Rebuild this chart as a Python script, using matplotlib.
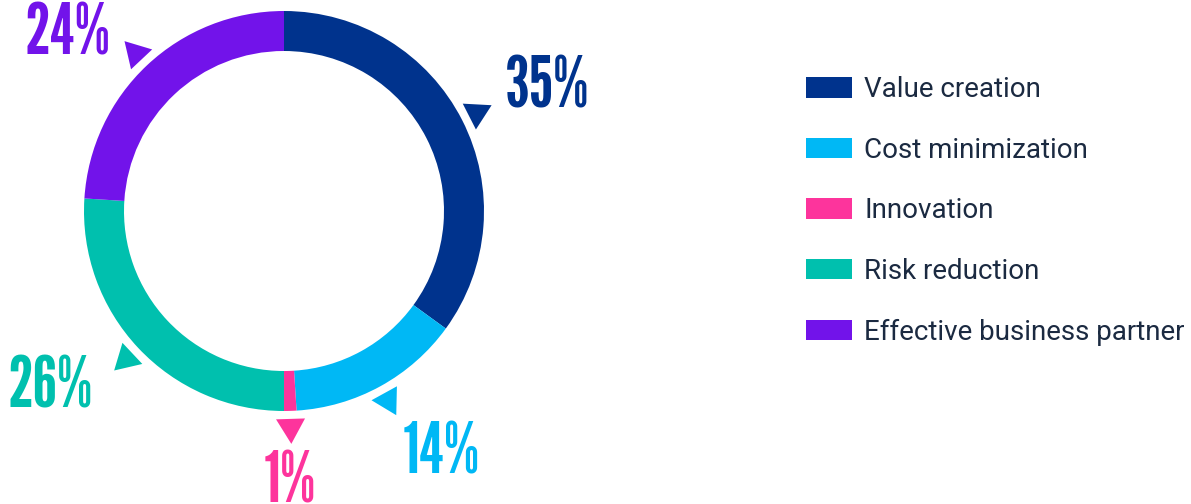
import numpy as np
import matplotlib
matplotlib.use('Agg')
import matplotlib.pyplot as plt
from matplotlib.patches import Patch, Polygon

# data
categories = ['Value creation', 'Cost minimization', 'Innovation', 'Risk reduction', 'Effective business partner']
shares = [35, 14, 1, 26, 24]
colors = ['#00338D', '#00B8F5', '#FD349C', '#00C0AE', '#7213EA']

# hand placement of the percent labels: (radius, angle shift in degrees)
label_nudge = [(1.28, 3.5), (1.32, -2.2), (1.33, -0.5), (1.28, -1.5), (1.26, 0.4)]

W, H = 1191, 504
cx, cy, R = 284, 211, 200  # pie centre and radius in pixels
cap = 0.26  # height of the percent digits, in units of the radius

fig = plt.figure(figsize=(W / 100, H / 100), dpi=100)
ax = fig.add_axes([0, 0, 1, 1])

wedges, _ = ax.pie(shares, colors=colors, startangle=90, counterclock=False, radius=1,
                   wedgeprops=dict(width=0.2, edgecolor='none', linewidth=0))
ax.set_xlim(-cx / R, (W - cx) / R)
ax.set_ylim(-(H - cy) / R, cy / R)
ax.set_aspect('equal')
ax.axis('off')

pct_font = ['League Gothic', 'Bebas Neue', 'DejaVu Sans']
for w, val, col, (r, da) in zip(wedges, shares, colors, label_nudge):
    a = np.deg2rad((w.theta1 + w.theta2) / 2)
    u = np.array([np.cos(a), np.sin(a)])
    t = np.array([-np.sin(a), np.cos(a)])
    # little pointer triangle just outside the ring
    tri = [1.04 * u + 0.0725 * t, 1.04 * u - 0.0725 * t, 1.165 * u]
    ax.add_patch(Polygon(tri, closed=True, color=col, lw=0))

    b = a + np.deg2rad(da)
    c = np.cos(b)
    ha = 'left' if c > 0.2 else ('right' if c < -0.2 else 'center')
    ax.text(r * c, r * np.sin(b) - cap / 2, f'{val}%', ha=ha, va='baseline', color=col,
            fontsize=51, fontweight='bold', family=pct_font)

handles = [Patch(facecolor=c, edgecolor='none') for c in colors]
leg = ax.legend(handles, categories, loc='upper left',
                bbox_to_anchor=(806 / W, 1 - 76 / H), bbox_transform=fig.transFigure,
                frameon=False, borderpad=0, borderaxespad=0,
                handlelength=1.66, handleheight=0.76, handletextpad=0.43,
                labelspacing=1.21,
                prop=dict(family=['Roboto', 'DejaVu Sans'], weight='normal', size=20))
for txt in leg.get_texts():
    txt.set_color('#1B2A41')

fig.savefig('out.png', dpi=100)
